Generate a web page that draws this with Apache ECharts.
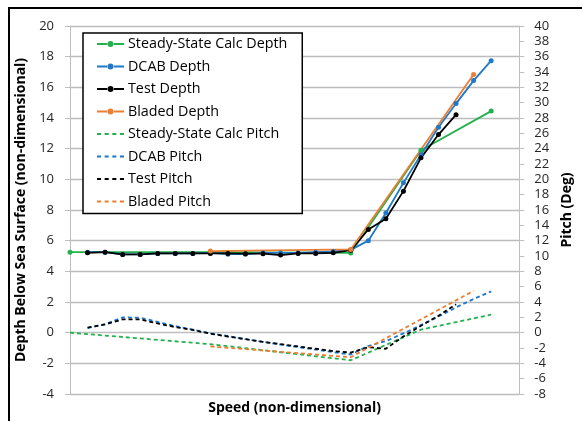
<!DOCTYPE html>
<html>
<head>
<meta charset="utf-8">
<script src="https://cdn.jsdelivr.net/npm/echarts@6/dist/echarts.min.js"></script>
<style>
html,body{margin:0;padding:0;background:#fff;}
#chart{width:582px;height:421px;}
</style>
</head>
<body>
<div id="chart"></div>
<script>
// Speed positions (non-dimensional, axis labels hidden in the original)
var ssSpeed = [0, 8, 16, 20, 24];
var dcabSpeed = [1,2,3,4,5,6,7,8,9,10,11,12,13,14,15,16,17,18,19,20,21,22,23,24];
var testSpeed = [1,2,3,4,5,6,7,8,9,10,11,12,13,14,15,16,17,18,19,20,21,22];
var bladedSpeed = [8, 16, 23];

// Depth below sea surface (left axis)
var ssDepth = [5.25, 5.25, 5.2, 11.9, 14.45];
var dcabDepth = [5.25,5.25,5.1,5.1,5.17,5.17,5.17,5.2,5.12,5.12,5.2,5.2,5.2,5.25,5.3,5.4,6.0,7.8,9.77,11.6,13.4,14.94,16.44,17.74];
var testDepth = [5.21,5.25,5.1,5.1,5.17,5.17,5.17,5.17,5.17,5.15,5.15,5.06,5.17,5.17,5.21,5.38,6.73,7.43,9.23,11.4,12.92,14.22];
var bladedDepth = [5.32, 5.43, 16.83];

// Pitch in degrees (right axis)
var ssPitch = [0, -1.5, -3.6, 0.4, 2.35];
var dcabPitch = [0.6,1.1,2.0,1.95,1.4,0.85,0.4,-0.1,-0.45,-0.85,-1.2,-1.55,-1.9,-2.2,-2.55,-2.85,-1.74,-1.1,-0.1,1.0,2.1,3.3,4.4,5.38];
var testPitch = [0.65,1.08,1.73,1.73,1.2,0.73,0.35,-0.13,-0.5,-0.85,-1.2,-1.5,-1.8,-2.1,-2.4,-2.6,-1.9,-2.1,-0.5,0.9,2.2,3.7];
var bladedPitch = [-1.8, -3.2, 5.45];

var seriesNames = ['Steady-State Calc Depth','DCAB Depth','Test Depth','Bladed Depth',
                   'Steady-State Calc Pitch','DCAB Pitch','Test Pitch','Bladed Pitch'];
var colors = ['#22b14c','#1f78c8','#000000','#ed7d31'];

function pairs(xs, ys){ return xs.map(function(x,i){ return [x, ys[i]]; }); }

var FONT = 'Open Sans';
// legend icons: solid line with a small dot, or a dashed line
var ICON_SOLID = 'path://M0,6.1h11v1.8h-11Z M16,6.1h11v1.8h-11Z M10.5,7a3,3 0 1,0 6,0a3,3 0 1,0 -6,0Z';
var ICON_DASH = 'path://M0,0h4v1.8h-4Z M7.5,0h4v1.8h-4Z M15,0h4v1.8h-4Z M22.5,0h4v1.8h-4Z';

var depthSets = [[ssSpeed,ssDepth],[dcabSpeed,dcabDepth],[testSpeed,testDepth],[bladedSpeed,bladedDepth]];
var pitchSets = [[ssSpeed,ssPitch],[dcabSpeed,dcabPitch],[testSpeed,testPitch],[bladedSpeed,bladedPitch]];

var series = [];
depthSets.forEach(function(s,i){
  series.push({
    name: seriesNames[i], type:'line', yAxisIndex:0,
    data: pairs(s[0], s[1]),
    symbol:'circle', symbolSize:5, showAllSymbol:true,
    lineStyle:{color:colors[i], width:1.8},
    itemStyle:{color:colors[i]},
    animation:false
  });
});
pitchSets.forEach(function(s,i){
  series.push({
    name: seriesNames[i+4], type:'line', yAxisIndex:1,
    data: pairs(s[0], s[1]),
    symbol:'none',
    lineStyle:{color:colors[i], width:1.8, type:[4,3]},
    itemStyle:{color:colors[i]},
    animation:false
  });
});

var legendData = seriesNames.map(function(n,i){
  return {name:n, icon: i < 4 ? ICON_SOLID : ICON_DASH};
});

var chart = echarts.init(document.getElementById('chart'), null, {renderer:'canvas'});
chart.setOption({
  backgroundColor:'#ffffff',
  animation:false,
  textStyle:{fontFamily:FONT},
  grid:{left:70, right:62, top:26, bottom:27},
  legend:{
    data: legendData,
    orient:'vertical', left:83, top:33,
    itemWidth:27, itemHeight:14, itemGap:8.5,
    padding:[4,15,5,14],
    borderColor:'#000', borderWidth:1.5, backgroundColor:'#fff',
    textStyle:{fontFamily:FONT, fontSize:14.3, color:'#000', padding:[0,0,0,-1]}
  },
  xAxis:{
    type:'value', min:0, max:25.6,
    name:'Speed (non-dimensional)', nameLocation:'middle', nameGap:7,
    nameTextStyle:{fontFamily:FONT, fontWeight:'bold', fontSize:14, color:'#000'},
    axisLine:{show:true, lineStyle:{color:'#bfbfbf', width:1}},
    axisTick:{show:false}, axisLabel:{show:false}, splitLine:{show:false}
  },
  yAxis:[{
    type:'value', min:-4, max:20, interval:2, position:'left',
    name:'Depth Below Sea Surface (non-dimensional)', nameLocation:'middle', nameGap:33, nameRotate:90,
    nameTextStyle:{fontFamily:FONT, fontWeight:'bold', fontSize:14, color:'#000'},
    axisLine:{show:true, lineStyle:{color:'#bfbfbf', width:1}},
    axisTick:{show:true, inside:false, length:5, lineStyle:{color:'#bfbfbf'}},
    axisLabel:{margin:16, fontFamily:FONT, fontSize:13, color:'#262626'},
    splitLine:{show:true, lineStyle:{color:'#bcbcbc', width:1.3}}
  },{
    type:'value', min:-8, max:40, interval:2, position:'right',
    name:'Pitch (Deg)', nameLocation:'middle', nameGap:38, nameRotate:90,
    nameTextStyle:{fontFamily:FONT, fontWeight:'bold', fontSize:14, color:'#000'},
    axisLine:{show:true, lineStyle:{color:'#bfbfbf', width:1}},
    axisTick:{show:true, inside:false, length:5, lineStyle:{color:'#bfbfbf'}},
    axisLabel:{margin:15, fontFamily:FONT, fontSize:13, color:'#262626'},
    splitLine:{show:false}
  }],
  graphic:[{
    type:'polyline', silent:true,
    shape:{points:[[9,421],[9,8],[582,8]]},
    style:{stroke:'#000', lineWidth:2, fill:null}
  }],
  series: series
});
</script>
</body>
</html>
